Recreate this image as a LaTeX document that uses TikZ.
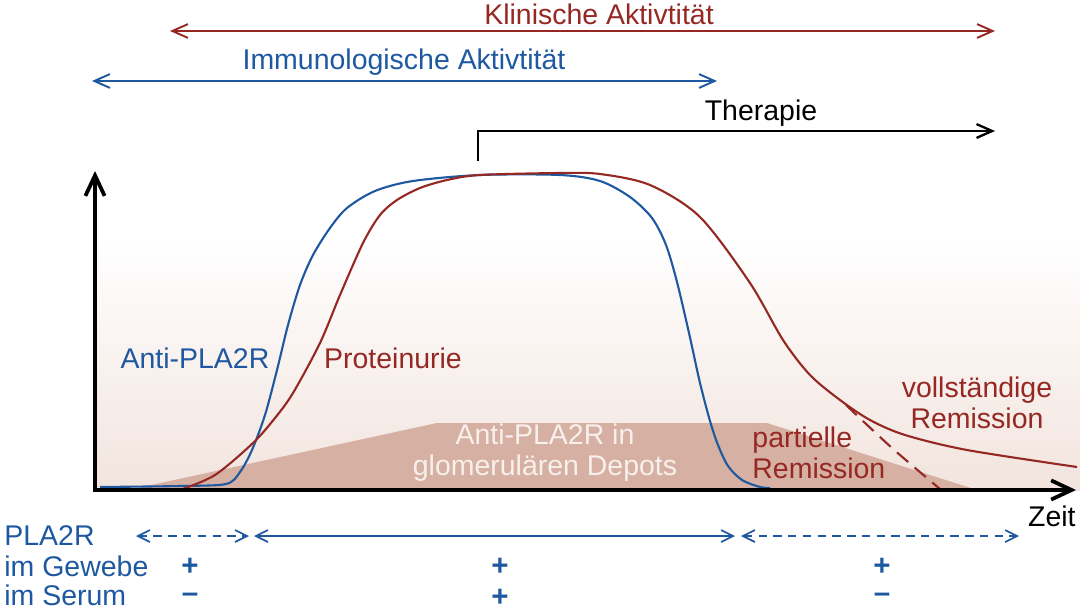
\documentclass[tikz,border=0pt]{standalone}
\usepackage{fontspec}
\setmainfont{Liberation Sans}
\usetikzlibrary{arrows.meta, positioning}

\definecolor{pred}{RGB}{150,40,36}
\definecolor{pblue}{RGB}{30,88,160}
\definecolor{bgrose}{RGB}{242,228,222}
\definecolor{depot}{RGB}{214,176,162}
\definecolor{depottext}{RGB}{248,240,236}

\begin{document}
\begin{tikzpicture}[
    x=1cm/60, y=-1cm/60,
    lbl/.style={font=\fontsize{13.5}{14.6}\selectfont, inner sep=0pt},
    sign/.style={font=\fontsize{14}{15}\selectfont\bfseries, text=pblue,
                 inner sep=0pt},
    span/.style={line width=0.9pt,
                 {Straight Barb[length=2.6mm,width=2.3mm]}-{Straight Barb[length=2.6mm,width=2.3mm]}},
    row/.style={line width=0.8pt, pblue,
                {Straight Barb[length=2mm,width=2mm]}-{Straight Barb[length=2mm,width=2mm]}},
    axis/.style={line width=1.8pt, -{Straight Barb[length=3.4mm,width=3.2mm]}},
    curve/.style={line width=1pt}
  ]
  \useasboundingbox (0,0) rectangle (1080,610);

  % background and depot area
  \shade[top color=white, bottom color=bgrose] (95,240) rectangle (1080,490);
  \fill[depot] (133,489) -- (437,423) -- (767,423) -- (977,490) -- cycle;
  \node[lbl, text=depottext, align=center] (depots) at (545,453)
    {Anti-PLA2R in\\glomerulären Depots};

  % curves
  \draw[curve, pblue] plot[smooth, tension=0.5] coordinates {
    (100,487) (180,486) (226,484) (240,472) (252,450) (265,415) (277,370)
    (288,325) (300,285) (313,255) (330,228) (347,208) (375,191) (413,181)
    (480,175) (560,175) (600,181) (630,197) (652,218) (666,245) (677,282)
    (689,333) (700,383) (710,421) (718,445) (728,466) (742,480) (760,487) (770,488)};
  \draw[curve, pred] plot[smooth, tension=0.5] coordinates {
    (180,490) (215,475) (253,443) (275,418) (293,393) (320,343) (340,295)
    (363,243) (380,215) (397,200) (420,188) (447,180) (480,175) (560,173)
    (600,174) (650,185) (700,217) (750,283) (783,340) (810,375) (840,400)
    (870,420) (905,435) (967,450) (1077,467)};
  \draw[curve, pred, dashed, dash pattern=on 7pt off 4pt] plot[smooth]
    coordinates {(846,405) (892,448) (940,489)};

  % axes
  \coordinate (orig) at (95,490);
  \coordinate (ytop) at (95,171);
  \coordinate (xend) at (1076,490);
  \draw[axis] ([yshift=0.8pt]orig) -- (ytop);
  \draw[axis] ([xshift=-0.8pt]orig) -- (xend);
  \node[lbl, anchor=north east] (zeit) at (1076,505) {Zeit};

  % curve labels
  \node[lbl, text=pblue] (antilbl) at (195,358) {Anti-PLA2R};
  \node[lbl, text=pred] (protlbl) at (393,358) {Proteinurie};
  \node[lbl, text=pred, align=center] (voll) at (977,403)
    {vollständige\\Remission};
  \node[lbl, text=pred, align=left, anchor=west] (part) at (752,453)
    {partielle\\Remission};

  % activity spans
  \coordinate (kl) at (170,31);
  \coordinate (kr) at (995,31);
  \draw[span, pred] (kl) -- (kr);
  \node[lbl, text=pred] (klin) at (599,14) {Klinische Aktivtität};
  \coordinate (il) at (92,81);
  \coordinate (ir) at (717,81);
  \draw[span, pblue] (il) -- (ir);
  \node[lbl, text=pblue] (immun) at (404,62) {Immunologische Aktivtität};

  % therapy
  \coordinate (tstart) at (478,161);
  \coordinate (tend) at (995,131);
  \draw[line width=1.1pt, -{Straight Barb[length=2.6mm,width=2.3mm]}]
    (tstart) |- (tend);
  \node[lbl] (ther) at (761,113) {Therapie};

  % PLA2R rows
  \node[lbl, text=pblue, anchor=west] (pla) at (4,536) {PLA2R};
  \node[lbl, text=pblue, anchor=west] (gew) at (4,566) {im Gewebe};
  \node[lbl, text=pblue, anchor=west] (ser) at (4,595) {im Serum};
  \coordinate (r0) at (136,536);
  \coordinate (r1) at (249,536);
  \coordinate (r2) at (254,536);
  \coordinate (r3) at (735,536);
  \coordinate (r4) at (741,536);
  \coordinate (r5) at (1019,536);
  \draw[row, dashed, dash pattern=on 4pt off 3pt] (r0) -- (r1);
  \draw[row] (r2) -- (r3);
  \draw[row, dashed, dash pattern=on 4pt off 3pt] (r4) -- (r5);

  \node[sign] (g1) at (190,567) {+};
  \node[sign] (s1) at (190,598) {--};
  \node[sign] (g2) at (500,567) {+};
  \node[sign] (s2) at (500,598) {+};
  \node[sign] (g3) at (882,567) {+};
  \node[sign] (s3) at (882,598) {--};
\end{tikzpicture}
\end{document}
